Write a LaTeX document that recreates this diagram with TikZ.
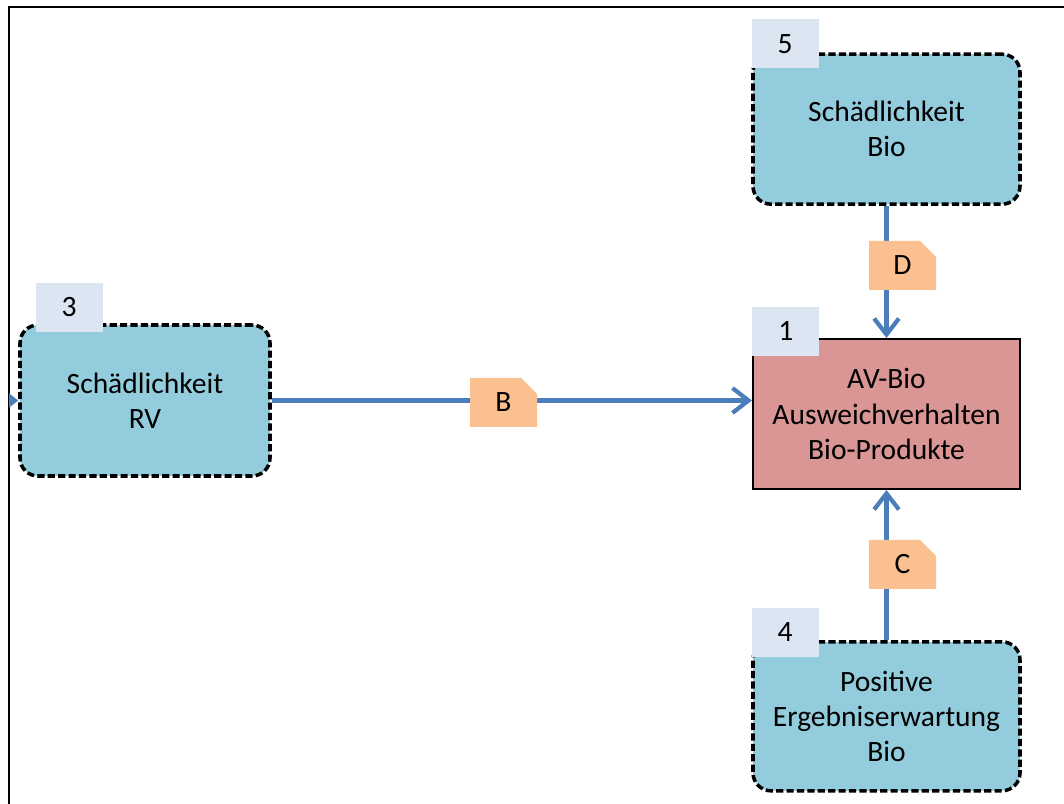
\documentclass[tikz,border=0pt]{standalone}
\usepackage{fontspec}
\setmainfont{Carlito}
\usetikzlibrary{arrows.meta, positioning, shapes.misc}
\definecolor{cFactor}{RGB}{147, 205, 221}
\definecolor{cCore}{RGB}{217, 150, 148}
\definecolor{cLink}{RGB}{250, 192, 143}
\definecolor{cTag}{RGB}{220, 230, 242}
\definecolor{bArrow}{RGB}{74, 126, 187}

\begin{document}
\begin{tikzpicture}[
    font=\fontsize{21}{25}\selectfont,
    >={Straight Barb[length=0.4cm, width=0.62cm]},
    factor/.style={
        draw=black,
        fill=cFactor,
        line width=2.5pt,
        dash pattern=on 0.18cm off 0.08cm,
        rounded corners=0.45cm,
        align=center,
        minimum width=6.675cm,
        minimum height=3.75cm,
        inner sep=0pt
    },
    core/.style={
        draw=black,
        fill=cCore,
        line width=1.5pt,
        align=center,
        minimum width=6.675cm,
        minimum height=3.75cm,
        inner sep=0pt
    },
    tag/.style={
        fill=cTag,
        anchor=south west,
        minimum width=1.675cm,
        minimum height=1.225cm,
        inner sep=0pt
    },
    linklabel/.style={
        chamfered rectangle,
        chamfered rectangle corners=north east,
        chamfered rectangle sep=0.2cm,
        fill=cLink,
        minimum width=1.675cm,
        minimum height=1.225cm,
        inner sep=0pt
    },
    arrow/.style={->, line width=3pt, color=bArrow}
]

\useasboundingbox (0,0) rectangle (26.6,-20.1);

% frame of the page
\draw[line width=1.5pt] (0.225,-20.1) -- (0.225,-0.175) -- (26.6,-0.175);

\node[core] (av) at (22.1625,-10.35) {AV-Bio\\Ausweichverhalten\\Bio-Produkte};
\node[factor, above=3.3cm of av] (bio) {Schädlichkeit\\Bio};
\node[factor, minimum height=3.725cm, below=3.75cm of av] (pos) {Positive\\Ergebniserwartung\\Bio};
\node[factor, minimum width=6.25cm, minimum height=3.775cm] (rv) at (3.625,-10.0125) {Schädlichkeit\\RV};

% incoming link from outside the frame
\coordinate (feed) at ([xshift=-4cm]rv.west);
\begin{scope}
    \clip (0.225,0) rectangle (26.6,-20.1);
    \draw[arrow] (feed) -- (rv.west);
\end{scope}

\draw[arrow] (rv.east) -- (rv.east -| av.west);
\draw[arrow] (bio) -- (av);
\draw[arrow] (pos) -- (av);

\node[linklabel] (lB) at (12.5875,-10.0625) {B};
\node[linklabel] (lD) at (22.5625,-6.6375) {D};
\node[linklabel] (lC) at (22.5625,-14.1125) {C};

\node[tag] (n3) at ([xshift=0.425cm, yshift=-0.225cm]rv.north west) {3};
\node[tag] (n5) at ([yshift=-0.4cm]bio.north west) {5};
\node[tag] (n1) at ([yshift=-0.45cm]av.north west) {1};
\node[tag] (n4) at ([yshift=-0.425cm]pos.north west) {4};

\end{tikzpicture}
\end{document}
